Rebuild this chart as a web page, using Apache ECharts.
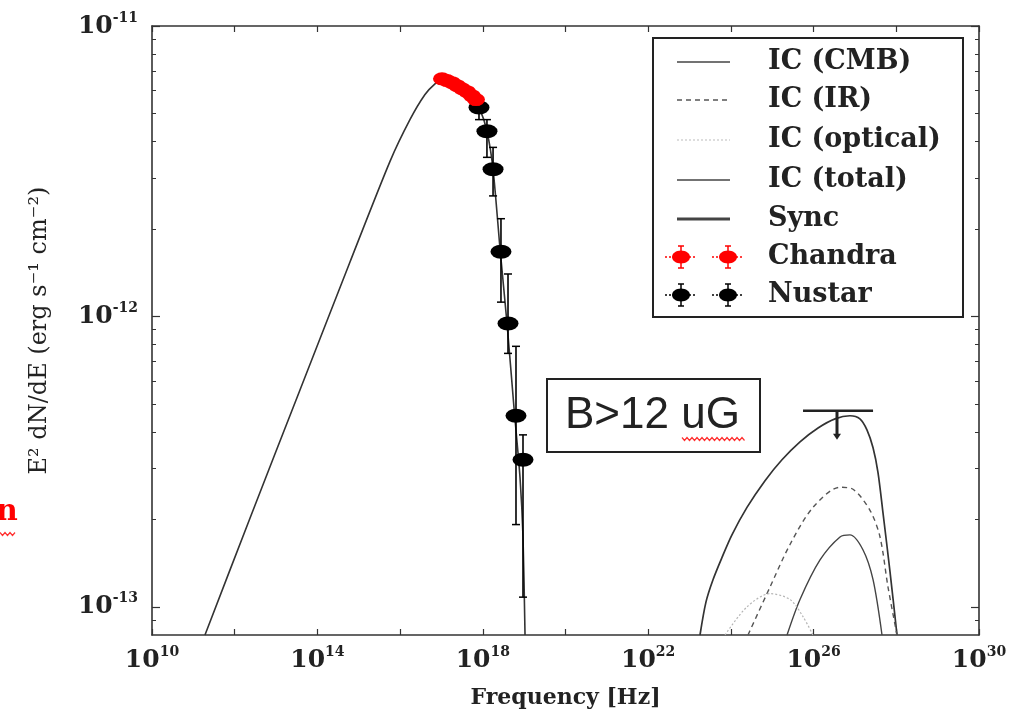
<!DOCTYPE html>
<html><head><meta charset="utf-8">
<script src="https://cdn.jsdelivr.net/npm/echarts@6/dist/echarts.min.js"></script>
<style>html,body{margin:0;padding:0;background:#fff}#c{width:1027px;height:714px}</style>
</head><body><div id="c"></div>
<script>
// ---- axis ticks / labels ----
const xTickValues = [1e10,1e12,1e14,1e16,1e18,1e20,1e22,1e24,1e26,1e28,1e30];
const xLabelValues = [1e10,1e14,1e18,1e22,1e26,1e30];
const yLabelValues = [1e-13,1e-12,1e-11];
const yMinorValues = [9e-14,2e-13,3e-13,4e-13,5e-13,6e-13,7e-13,8e-13,9e-13,2e-12,3e-12,4e-12,5e-12,6e-12,7e-12,8e-12,9e-12];

// ---- synchrotron model ----
const syncNu = [1.91e11,2.34e12,3.79e13,6.14e14,5.70e15,1.73e16,4.00e16,6.98e16,1.09e17,1.80e17,3.14e17,5.48e17,8.55e17,1.26e18,1.77e18,2.61e18,3.85e18,5.69e18,7.94e18,9.38e18,1.05e19];
const syncF  = [8.0e-14,2.02e-13,5.58e-13,1.54e-12,3.42e-12,4.76e-12,5.81e-12,6.32e-12,6.58e-12,6.49e-12,6.14e-12,5.66e-12,5.15e-12,4.34e-12,3.21e-12,1.71e-12,9.46e-13,4.84e-13,2.79e-13,1.74e-13,8.0e-14];

// ---- inverse Compton models ----
const icTotalNu = [1.79e23,2.50e23,3.69e23,6.10e23,1.06e24,2.45e24,6.68e24,1.72e25,4.69e25,1.28e26,3.30e26,7.59e26,1.32e27,1.95e27,2.74e27,3.61e27,4.76e27,7.05e27,1.04e28];
const icTotalF  = [8.0e-14,1.04e-13,1.24e-13,1.48e-13,1.77e-13,2.20e-13,2.72e-13,3.21e-13,3.70e-13,4.13e-13,4.44e-13,4.55e-13,4.44e-13,4.07e-13,3.53e-13,2.90e-13,2.11e-13,1.32e-13,8.0e-14];
const icIrNu = [2.59e24,8.83e24,2.69e25,9.66e25,4.35e26,8.97e26,2.31e27,4.04e27,6.30e27,1.04e28];
const icIrF  = [8.0e-14,1.17e-13,1.64e-13,2.20e-13,2.58e-13,2.54e-13,2.15e-13,1.74e-13,1.17e-13,8.0e-14];
const icCmbNu = [2.28e25,4.69e25,1.43e26,4.35e26,7.59e26,1.57e27,2.74e27,4.51e27];
const icCmbF  = [8.0e-14,1.06e-13,1.45e-13,1.74e-13,1.77e-13,1.57e-13,1.24e-13,8.0e-14];
const icOptNu = [7.20e23,2.45e24,8.83e24,2.69e25,5.55e25,9.66e25];
const icOptF  = [8.0e-14,1.0e-13,1.11e-13,1.06e-13,9.25e-14,8.0e-14];

// ---- Chandra data ----
const chandraNu = [1.03e17,1.36e17,1.80e17,2.38e17,3.14e17,4.15e17,5.48e17,6.84e17];
const chandraF  = [6.58e-12,6.49e-12,6.38e-12,6.23e-12,6.08e-12,5.94e-12,5.75e-12,5.58e-12];
const chandraLo = [6.35e-12,6.27e-12,6.16e-12,6.01e-12,5.86e-12,5.72e-12,5.53e-12,5.36e-12];
const chandraHi = [6.80e-12,6.71e-12,6.60e-12,6.45e-12,6.30e-12,6.16e-12,5.97e-12,5.80e-12];

// ---- NuSTAR data ----
const nustarNu = [8.09e17,1.26e18,1.77e18,2.75e18,4.07e18,6.35e18,9.38e18];
const nustarF  = [5.24e-12,4.34e-12,3.21e-12,1.67e-12,9.46e-13,4.55e-13,3.21e-13];
const nustarHi = [5.58e-12,4.76e-12,3.82e-12,2.17e-12,1.40e-12,7.89e-13,3.91e-13];
const nustarLo = [4.76e-12,3.53e-12,2.60e-12,1.12e-12,7.46e-13,1.92e-13,1.08e-13];

// ---- gamma-ray upper limit ----
const ulNu = [3.68e26];
const ulF = [4.73e-13];
const ulNuLo = [5.55e25];
const ulNuHi = [2.74e27];
const ulArrowF = [3.76e-13];

const legendNames = ['IC (CMB)','IC (IR)','IC (optical)','IC (total)','Sync','Chandra','Nustar'];

const pairs = (a,b) => a.map((v,i)=>[v,b[i]]);
const serif = 'DejaVu Serif';
const fmt = v => '{b|10}{s|' + Math.round(Math.log10(v)) + '}';
const labelRich = {
  b:{fontFamily:serif,fontWeight:'bold',fontSize:25,color:'#222',lineHeight:30},
  s:{fontFamily:serif,fontWeight:'bold',fontSize:14,color:'#222',verticalAlign:'top',lineHeight:15}
};
const axisLine = {show:true,lineStyle:{color:'#333',width:1.6}};

function errRender(color){
  return function(params, api){
    const x = api.value(0);
    const hi = api.coord([x, api.value(3)]);
    const lo = api.coord([x, api.value(2)]);
    const cw = 4;
    return {type:'group',children:[
      {type:'line',shape:{x1:hi[0],y1:hi[1],x2:lo[0],y2:lo[1]},style:{stroke:color,lineWidth:1.6}},
      {type:'line',shape:{x1:hi[0]-cw,y1:hi[1],x2:hi[0]+cw,y2:hi[1]},style:{stroke:color,lineWidth:1.5}},
      {type:'line',shape:{x1:lo[0]-cw,y1:lo[1],x2:lo[0]+cw,y2:lo[1]},style:{stroke:color,lineWidth:1.5}}
    ]};
  };
}

// ---- legend & annotations (graphic) ----
const rowsY = [62,100,140,180,219,257,295];
const legendG = [{type:'rect',shape:{x:653,y:38,width:310,height:279},style:{fill:'#fff',stroke:'#222',lineWidth:2},z:50}];
const lineStyles = [
  {stroke:'#444',lineWidth:1.3},
  {stroke:'#555',lineWidth:1.3,lineDash:[5,4]},
  {stroke:'#bbb',lineWidth:1.2,lineDash:[2,2]},
  {stroke:'#444',lineWidth:1.6},
  {stroke:'#444',lineWidth:3}
];
function markerIcon(cx, cy, color){
  return [
    {type:'line',shape:{x1:cx-16,y1:cy,x2:cx+16,y2:cy},style:{stroke:color,lineWidth:1.5,lineDash:[2,2]},z:51},
    {type:'line',shape:{x1:cx,y1:cy-11,x2:cx,y2:cy+11},style:{stroke:color,lineWidth:1.5},z:51},
    {type:'line',shape:{x1:cx-3,y1:cy-11,x2:cx+3,y2:cy-11},style:{stroke:color,lineWidth:1.5},z:51},
    {type:'line',shape:{x1:cx-3,y1:cy+11,x2:cx+3,y2:cy+11},style:{stroke:color,lineWidth:1.5},z:51},
    {type:'ellipse',shape:{cx:cx,cy:cy,rx:9,ry:6.5},style:{fill:color},z:52}
  ];
}
legendNames.forEach((n,i)=>{
  const y = rowsY[i];
  if (i < 5) legendG.push({type:'line',shape:{x1:677,y1:y,x2:730,y2:y},style:lineStyles[i],z:51});
  else {
    const col = i===5 ? '#ff0000' : '#000';
    markerIcon(681,y,col).forEach(e=>legendG.push(e));
    markerIcon(728,y,col).forEach(e=>legendG.push(e));
  }
  legendG.push({type:'text',x:768,y:y,style:{text:n,fontFamily:serif,fontWeight:'bold',fontSize:27,fill:'#222',verticalAlign:'middle'},z:51});
});
// wavy underline helper
function wavy(x0,x1,y,amp,step){
  const pts=[]; let k=0;
  for(let x=x0;x<=x1;x+=step){pts.push([x, y + (k%2?amp:-amp)]);k++;}
  return pts;
}
const annot = [
  {type:'rect',shape:{x:547,y:379,width:213,height:73},style:{fill:'#fff',stroke:'#222',lineWidth:2},z:50},
  {type:'text',x:565,y:416,style:{text:'B>12 uG',fontFamily:'Liberation Sans',fontSize:44,fill:'#222',verticalAlign:'middle'},z:51},
  {type:'polyline',shape:{points:wavy(682,746,439,1.5,2.5)},style:{stroke:'#ff3030',lineWidth:1.2,fill:null},z:51},
  {type:'text',x:-4,y:512,style:{text:'n',fontFamily:serif,fontWeight:'bold',fontSize:30,fill:'#ff0000',verticalAlign:'middle'},z:51},
  {type:'polyline',shape:{points:wavy(0,16,534,1.5,2.5)},style:{stroke:'#ff3030',lineWidth:1.2,fill:null},z:51}
];

const chart = echarts.init(document.getElementById('c'), null, {renderer:'canvas'});
chart.setOption({
  animation:false,
  backgroundColor:'#fff',
  grid:{left:152,right:48,top:26,bottom:76,containLabel:false},
  xAxis:[
    {type:'log',logBase:10,min:1e10,max:1.0001e30,position:'bottom',axisLine:axisLine,
     axisTick:{show:true,inside:true,length:6,customValues:xTickValues,lineStyle:{color:'#333',width:1.2}},
     axisLabel:{show:true,customValues:xLabelValues,formatter:fmt,rich:labelRich,margin:10},
     splitLine:{show:false},minorTick:{show:false},
     name:'Frequency [Hz]',nameLocation:'middle',nameGap:52,
     nameTextStyle:{fontFamily:serif,fontWeight:'bold',fontSize:22,color:'#222'}},
    {type:'log',logBase:10,min:1e10,max:1.0001e30,position:'top',axisLine:axisLine,
     axisTick:{show:true,inside:true,length:6,customValues:xTickValues,lineStyle:{color:'#333',width:1.2}},
     axisLabel:{show:false},splitLine:{show:false}}
  ],
  yAxis:[
    {type:'log',logBase:10,min:8e-14,max:1e-11,position:'left',axisLine:axisLine,
     axisTick:{show:true,inside:true,length:8,customValues:yLabelValues,lineStyle:{color:'#333',width:1.2}},
     axisLabel:{show:true,customValues:yLabelValues,formatter:fmt,rich:labelRich,margin:14},
     splitLine:{show:false},
     name:'E² dN/dE (erg s⁻¹ cm⁻²)',nameLocation:'middle',nameGap:100,nameRotate:90,
     nameTextStyle:{fontFamily:serif,fontSize:24,color:'#222'}},
    {type:'log',logBase:10,min:8e-14,max:1e-11,position:'left',axisLine:{show:false},
     axisTick:{show:true,inside:true,length:4,customValues:yMinorValues,lineStyle:{color:'#333',width:1}},
     axisLabel:{show:false},splitLine:{show:false}},
    {type:'log',logBase:10,min:8e-14,max:1e-11,position:'right',axisLine:axisLine,
     axisTick:{show:true,inside:true,length:8,customValues:yLabelValues,lineStyle:{color:'#333',width:1.2}},
     axisLabel:{show:false},splitLine:{show:false}},
    {type:'log',logBase:10,min:8e-14,max:1e-11,position:'right',axisLine:{show:false},
     axisTick:{show:true,inside:true,length:4,customValues:yMinorValues,lineStyle:{color:'#333',width:1}},
     axisLabel:{show:false},splitLine:{show:false}}
  ],
  graphic: legendG.concat(annot),
  series:[
    {name:'Sync',type:'line',data:pairs(syncNu,syncF),symbol:'none',smooth:0.25,clip:true,lineStyle:{color:'#333',width:1.6},z:2},
    {name:'IC (total)',type:'line',data:pairs(icTotalNu,icTotalF),symbol:'none',smooth:0.3,clip:true,lineStyle:{color:'#333',width:1.7},z:2},
    {name:'IC (CMB)',type:'line',data:pairs(icCmbNu,icCmbF),symbol:'none',smooth:0.3,clip:true,lineStyle:{color:'#444',width:1.4},z:2},
    {name:'IC (IR)',type:'line',data:pairs(icIrNu,icIrF),symbol:'none',smooth:0.3,clip:true,lineStyle:{color:'#555',width:1.4,type:[5,4]},z:2},
    {name:'IC (optical)',type:'line',data:pairs(icOptNu,icOptF),symbol:'none',smooth:0.3,clip:true,lineStyle:{color:'#b5b5b5',width:1.2,type:[2,2]},z:2},
    {name:'Nustar errors',type:'custom',clip:true,data:nustarNu.map((n,i)=>[n,nustarF[i],nustarLo[i],nustarHi[i]]),
     encode:{x:0,y:[1,2,3]},renderItem:errRender('#000'),z:3},
    {name:'Nustar',type:'scatter',data:pairs(nustarNu,nustarF),symbol:'circle',symbolSize:[21,14],itemStyle:{color:'#000',opacity:1},z:4},
    {name:'Chandra errors',type:'custom',clip:true,data:chandraNu.map((n,i)=>[n,chandraF[i],chandraLo[i],chandraHi[i]]),
     encode:{x:0,y:[1,2,3]},renderItem:errRender('#ff0000'),z:5},
    {name:'Chandra',type:'scatter',data:pairs(chandraNu,chandraF),symbol:'circle',symbolSize:[18,13],itemStyle:{color:'#ff0000',opacity:1},z:6},
    {name:'Upper limit',type:'custom',clip:true,data:ulNu.map((n,i)=>[n,ulF[i],ulNuLo[i],ulNuHi[i],ulArrowF[i]]),
     encode:{x:[0,2,3],y:[1,4]},z:7,
     renderItem:function(params, api){
       const c = api.coord([api.value(0), api.value(1)]);
       const l = api.coord([api.value(2), api.value(1)]);
       const r = api.coord([api.value(3), api.value(1)]);
       const d = api.coord([api.value(0), api.value(4)]);
       return {type:'group',children:[
         {type:'line',shape:{x1:l[0],y1:l[1],x2:r[0],y2:r[1]},style:{stroke:'#222',lineWidth:2.5}},
         {type:'line',shape:{x1:c[0],y1:c[1],x2:d[0],y2:d[1]-4},style:{stroke:'#222',lineWidth:3}},
         {type:'polygon',shape:{points:[[d[0]-4,d[1]-6],[d[0]+4,d[1]-6],[d[0],d[1]]]},style:{fill:'#222'}}
       ]};
     }}
  ]
});
</script></body></html>
